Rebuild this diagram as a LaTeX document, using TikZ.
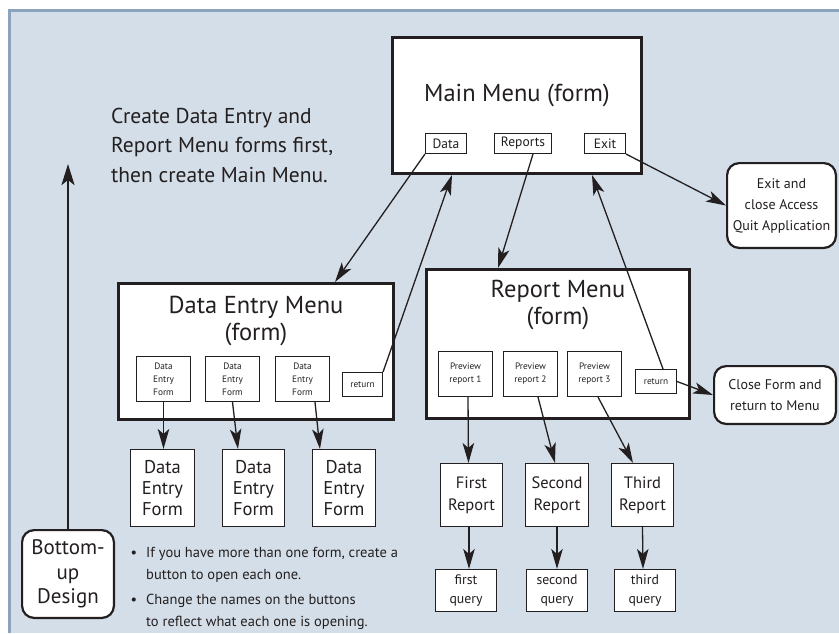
\documentclass[tikz,border=0pt]{standalone}
\usepackage{fontspec}
\setmainfont{PT Sans}
\usetikzlibrary{arrows.meta,calc}
\definecolor{ink}{HTML}{231F20}
\definecolor{bgcol}{HTML}{D4DEE8}
\definecolor{edgecol}{HTML}{8AA4BE}
\tikzset{
  bigbox/.style={draw=ink, line width=2.6pt, fill=white, inner sep=0pt},
  btn/.style={draw=ink, line width=1.1pt, fill=white, inner sep=0pt, align=center, text=ink},
  callout/.style={draw=ink, line width=2.2pt, fill=white, rounded corners=12pt, align=center, inner sep=0pt, text=ink},
  arr/.style={draw=ink, line width=1.3pt, -{Stealth[length=20pt,width=11.5pt,inset=5pt]}},
  arrthick/.style={draw=ink, line width=2.6pt, -{Stealth[length=21pt,width=13pt,inset=5pt]}},
  txt/.style={text=ink, inner sep=0pt, align=center},
  fTitle/.style={font=\fontsize{24.5}{27}\selectfont},
  fTiny/.style={font=\fontsize{9.3}{13}\selectfont},
  fBtn/.style={font=\fontsize{13.5}{16}\selectfont},
  fDef/.style={font=\fontsize{18.5}{21}\selectfont},
  fRep/.style={font=\fontsize{16.5}{22}\selectfont},
  fQry/.style={font=\fontsize{13.8}{19}\selectfont},
  fCall/.style={font=\fontsize{14}{21}\selectfont},
  fBud/.style={font=\fontsize{21}{24.5}\selectfont},
  fNote/.style={font=\fontsize{14.5}{22}\selectfont},
  fInst/.style={font=\fontsize{21.5}{29.5}\selectfont}
}
\begin{document}
\begin{tikzpicture}[x=1pt,y=-1pt]
\useasboundingbox (0,0) rectangle (839,633);
\fill[edgecol] (8,9) rectangle (839,633);
\fill[bgcol] (11,12) rectangle (839,633);

% instruction text
\node[txt, align=left, anchor=west, fInst] (inst) at (111,145) {Create Data Entry and\\Report Menu forms first,\\then create Main Menu.};

% Main menu
\node[bigbox, minimum width=249.4pt, minimum height=136.4pt] (main) at (517,105.5) {};
\node[txt, fTitle] (maint) at (517,95) {Main Menu (form)};
\node[btn, fBtn, minimum width=41pt, minimum height=20pt] (mdata) at (446,143.5) {Data};
\node[btn, fBtn, minimum width=57pt, minimum height=20pt] (mrep) at (523,143.5) {Reports};
\node[btn, fBtn, minimum width=41pt, minimum height=20pt] (mexit) at (605,143.5) {Exit};

% Exit callout
\node[callout, fCall, minimum width=108.8pt, minimum height=84.8pt] (exitc) at (781.5,205.5) {Exit and\\close Access\\Quit Application};

% Data entry menu
\node[bigbox, minimum width=275.4pt, minimum height=136.4pt] (dem) at (256,351.5) {};
\node[txt, fTitle] (demt) at (256,321) {Data Entry Menu\\(form)};
\node[btn, fTiny, minimum width=54pt, minimum height=45pt] (de1) at (163.5,379) {Data\\Entry\\Form};
\node[btn, fTiny, minimum width=54pt, minimum height=45pt] (de2) at (232.5,379) {Data\\Entry\\Form};
\node[btn, fTiny, minimum width=54pt, minimum height=45pt] (de3) at (302.5,379) {Data\\Entry\\Form};
\node[btn, fTiny, minimum width=40pt, minimum height=24pt] (dret) at (362.5,384.5) {return};

% Report menu
\node[bigbox, minimum width=263.4pt, minimum height=149.4pt] (rm) at (558,344) {};
\node[txt, fTitle] (rmt) at (558,305.5) {Report Menu\\(form)};
\node[btn, fTiny, minimum width=54pt, minimum height=45pt] (p1) at (465.5,374) {Preview\\report 1};
\node[btn, fTiny, minimum width=54pt, minimum height=45pt] (p2) at (530.5,374) {Preview\\report 2};
\node[btn, fTiny, minimum width=54pt, minimum height=45pt] (p3) at (594.5,374) {Preview\\report 3};
\node[btn, fTiny, minimum width=41pt, minimum height=24pt] (rret) at (656,381.5) {return};

% Close callout
\node[callout, fCall, minimum width=121.8pt, minimum height=57.8pt] (closec) at (775,395) {Close Form and\\return to Menu};

% Data entry forms
\node[btn, fDef, minimum width=64pt, minimum height=77pt] (def1) at (162.5,488) {Data\\Entry\\Form};
\node[btn, fDef, minimum width=62pt, minimum height=77pt] (def2) at (253.5,488) {Data\\Entry\\Form};
\node[btn, fDef, minimum width=63pt, minimum height=77pt] (def3) at (344,488) {Data\\Entry\\Form};

% Reports
\node[btn, fRep, minimum width=62pt, minimum height=63pt] (fr) at (471.5,495) {First\\Report};
\node[btn, fRep, minimum width=63pt, minimum height=63pt] (sr) at (557,495) {Second\\Report};
\node[btn, fRep, minimum width=62pt, minimum height=63pt] (tr) at (642.5,495) {Third\\Report};

% Queries
\node[btn, fQry, minimum width=61pt, minimum height=42pt] (fq) at (466,590.5) {first\\query};
\node[btn, fQry, minimum width=61pt, minimum height=42pt] (sq) at (557,590.5) {second\\query};
\node[btn, fQry, minimum width=61pt, minimum height=42pt] (tq) at (645,590.5) {third\\query};

% Bottom-up
\node[callout, fBud, minimum width=91.8pt, minimum height=87.8pt] (bud) at (68,574) {Bottom-\\up\\Design};
\coordinate (budtip) at (68,164);
\draw[arrthick] (bud.north) -- (budtip);

% Notes
\node[txt, fNote] (b1m) at (134,554) {\textbullet};
\node[txt, fNote, align=left, anchor=west] (b1t) at (146,565) {If you have more than one form, create a\\button to open each one.};
\node[txt, fNote] (b2m) at (134,601) {\textbullet};
\node[txt, fNote, align=left, anchor=west] (b2t) at (146,612) {Change the names on the buttons\\to reflect what each one is opening.};

% connectors
\draw[arr] (mdata.south west) -- ([xshift=218pt]dem.north west);
\draw[arr] (dret.north east) -- ([xshift=61pt]main.south west);
\draw[arr] ([xshift=10pt]mrep.south) -- ([xshift=73pt]rm.north west);
\draw[arr] ([xshift=7pt]rret.north) -- ([xshift=201pt]main.south west);
\draw[arr] (mexit.south east) -- (exitc.west);
\draw[arr] (rret.east) -- (closec.west);

\draw[arr] (de1.south) -- (de1.south |- def1.north);
\draw[arr] (de2.south) -- ([xshift=16pt]def2.north west);
\draw[arr] ([xshift=12.5pt]de3.south) -- ([xshift=8pt]def3.north west);

\draw[arr] ([xshift=2.5pt]p1.south) -- ([xshift=-3pt]fr.north);
\draw[arr] ([xshift=7.5pt]p2.south) -- ([xshift=-2pt]sr.north);
\draw[arr] ([xshift=3.5pt]p3.south) -- ([xshift=-9.5pt]tr.north);

\draw[arr] ([xshift=-2.5pt]fr.south) -- ([xshift=3pt]fq.north);
\draw[arr] (sr.south) -- (sq.north);
\draw[arr] (tr.south) -- ([xshift=-2pt]tq.north);
\end{tikzpicture}
\end{document}
